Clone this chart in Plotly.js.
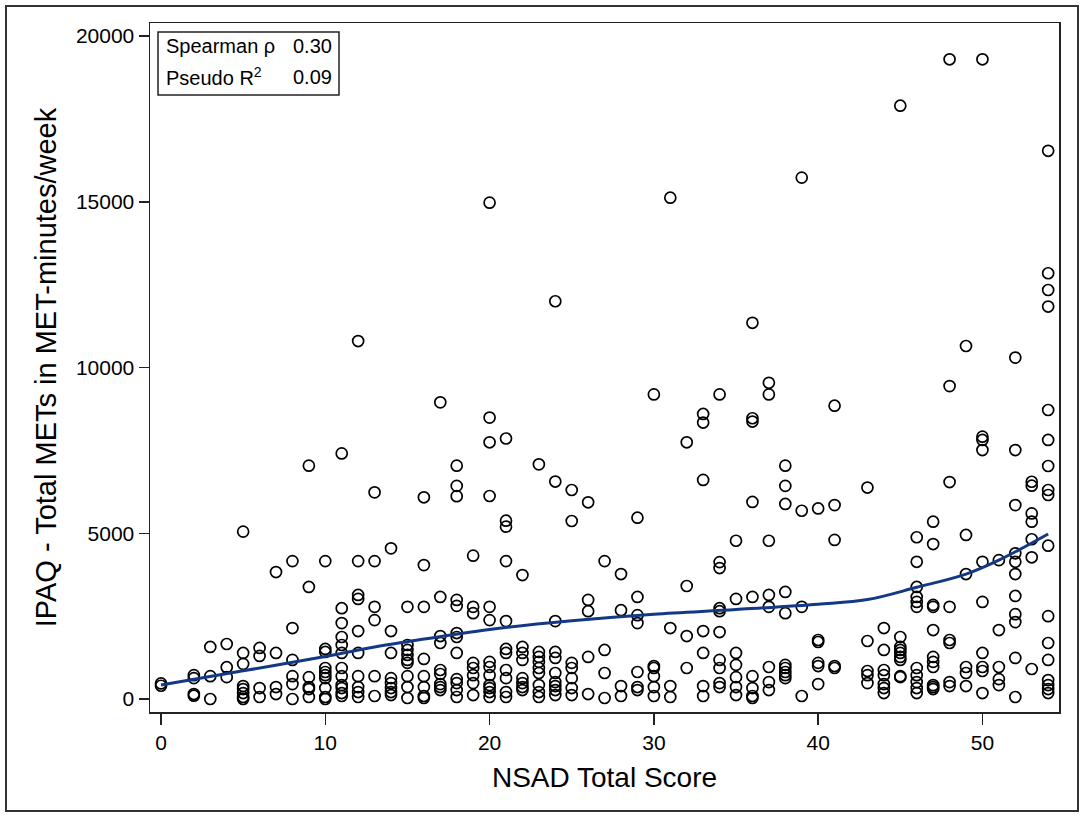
<!DOCTYPE html>
<html>
<head>
<meta charset="utf-8">
<script src="https://cdn.plot.ly/plotly-3.0.1.min.js"></script>
<style>
  html, body { margin: 0; padding: 0; background: #fff; }
  #chart { width: 1084px; height: 816px; }
</style>
</head>
<body>
<div id="chart"></div>
<script>
// NSAD total score values that have observations
const nsadScores = [0, 2, 3, 4, 5, 6, 7, 8, 9, 10, 11, 12, 13, 14, 15, 16, 17, 18, 19, 20,
  21, 22, 23, 24, 25, 26, 27, 28, 29, 30, 31, 32, 33, 34, 35, 36, 37, 38, 39, 40,
  41, 43, 44, 45, 46, 47, 48, 49, 50, 51, 52, 53, 54];

// IPAQ total METs (MET-minutes/week) observed at each score above
const metsByScore = [
  [400, 470],
  [720, 630, 150, 100],
  [1570, 690, 0],
  [1660, 960, 660],
  [5050, 1390, 1060, 390, 300, 180, 60, 0],
  [1540, 1300, 330, 60],
  [3830, 1390, 360, 150],
  [4160, 2140, 1180, 690, 450, 0],
  [7040, 3380, 660, 360, 300, 60],
  [4160, 1510, 1420, 935, 815, 720, 630, 330, 60, 0],
  [7410, 2740, 2290, 1870, 1630, 1390, 935, 690, 420, 330, 180, 90],
  [10800, 4160, 3140, 3020, 2050, 1390, 690, 360, 210, 60],
  [6235, 4160, 2780, 2380, 690, 90],
  [4545, 2050, 1390, 630, 480, 330, 210, 120],
  [2780, 1630, 1480, 1330, 1180, 1090, 690, 360, 30],
  [6085, 4040, 2780, 1210, 690, 360, 90, 30],
  [8950, 3080, 1900, 1690, 875, 755, 450, 360, 270],
  [7040, 6430, 6120, 2990, 2810, 1990, 1870, 1390, 600, 480, 270, 60],
  [4325, 2780, 2590, 1090, 935, 720, 480, 120],
  [14975, 8490, 7745, 6125, 2780, 2380, 1120, 965, 720, 420, 330, 210, 60],
  [7860, 5380, 5200, 4160, 2350, 1510, 1390, 875, 630, 210, 60],
  [3740, 1570, 1390, 1180, 630, 480, 360, 270],
  [7080, 1420, 1270, 1120, 935, 785, 420, 210, 60],
  [12000, 6560, 2350, 1420, 1240, 785, 510, 390, 270, 120],
  [6305, 5370, 1090, 935, 630, 330, 120],
  [5935, 2990, 2650, 1270, 150],
  [4160, 1480, 785, 30],
  [3770, 2680, 390, 90],
  [5470, 3080, 2530, 2290, 815, 360, 270],
  [9190, 995, 935, 690, 360, 90],
  [15125, 2140, 390, 60],
  [7745, 3410, 1900, 935],
  [8600, 8340, 6610, 2050, 1390, 390, 90],
  [9190, 4130, 3950, 2740, 2650, 2020, 1180, 935, 480, 360],
  [4775, 3020, 1390, 1030, 660, 360, 120],
  [11350, 8470, 8370, 5945, 3080, 690, 330, 90, 30],
  [9540, 9190, 4775, 3140, 2780, 965, 510, 270],
  [7040, 6430, 5885, 3230, 2590, 1030, 935, 815, 720, 630],
  [15730, 5680, 2780, 90],
  [5750, 1780, 1720, 1090, 995, 450],
  [8850, 5850, 4800, 995, 935],
  [6380, 1750, 845, 720, 480],
  [2140, 1480, 875, 720, 450, 330, 180],
  [17900, 1870, 1570, 1480, 1390, 1270, 1180, 690, 660],
  [4880, 4140, 3380, 3080, 2930, 2780, 935, 720, 510, 330, 180],
  [5350, 4675, 2840, 2780, 2080, 1270, 1120, 965, 420, 360, 300],
  [19300, 9440, 6545, 2780, 1780, 1690, 510, 390],
  [10650, 4950, 3770, 965, 785, 390],
  [19300, 7915, 7815, 7510, 4140, 2930, 1390, 965, 845, 180],
  [4190, 2080, 965, 600, 420],
  [10300, 7510, 5850, 4395, 4140, 3770, 3110, 2560, 2320, 1240, 60],
  [6555, 6435, 5600, 5350, 4820, 4275, 905],
  [16540, 12845, 12340, 11840, 8720, 7815, 7030, 6305, 6155, 4625, 2500, 1690, 1180, 570, 420, 300, 180]
];

// Fitted smooth curve
const fitScore = [0, 5, 10, 13, 15, 20, 25, 30, 35, 40, 43, 46, 49, 51, 54];
const fitMets = [420, 850, 1280, 1570, 1730, 2100, 2360, 2560, 2700, 2860, 3000, 3370, 3770, 4190, 4980];

// Tick labels
const xTicks = [0, 10, 20, 30, 40, 50];
const yTicks = [0, 5000, 10000, 15000, 20000];

// Statistics box
const statLabels = ['Spearman ρ', 'Pseudo R<sup>2</sup>'];
const statValues = ['0.30', '0.09'];

const px = [], py = [];
nsadScores.forEach((s, i) => {
  metsByScore[i].forEach(v => { px.push(s); py.push(v); });
});

const FONT = 'Liberation Sans, Arial, Helvetica, sans-serif';
const INK = '#222';

const traces = [
  {
    x: px, y: py, type: 'scatter', mode: 'markers',
    marker: { symbol: 'circle-open', size: 11, color: '#000', line: { width: 1.7, color: '#000' } },
    hoverinfo: 'x+y', showlegend: false
  },
  {
    x: fitScore, y: fitMets, type: 'scatter', mode: 'lines',
    line: { color: '#123886', width: 3, shape: 'spline', smoothing: 1 },
    showlegend: false
  }
];

const W = 909, H = 689;
const pxX = p => (p - 150) / W;
const pxY = p => (712 - p) / H;

const annotations = [];
statLabels.forEach((lab, i) => {
  const yc = pxY(i === 0 ? 45.5 : 76.5);
  annotations.push({ xref: 'paper', yref: 'paper', x: pxX(164), y: yc, xanchor: 'left', yanchor: 'middle',
    text: lab, showarrow: false, font: { family: FONT, size: 20, color: '#000' } });
  annotations.push({ xref: 'paper', yref: 'paper', x: pxX(334), y: yc, xanchor: 'right', yanchor: 'middle',
    text: statValues[i], showarrow: false, font: { family: FONT, size: 20, color: '#000' } });
});

const layout = {
  width: 1084, height: 816,
  margin: { l: 150, r: 25, t: 23, b: 104 },
  paper_bgcolor: '#fff', plot_bgcolor: '#fff',
  font: { family: FONT, color: '#000' },
  xaxis: {
    range: [-0.67, 54.66],
    tickvals: xTicks, ticktext: xTicks.map(String),
    ticks: 'outside', ticklen: 11, tickwidth: 1.5, tickcolor: INK,
    showline: true, linecolor: INK, linewidth: 1.5, mirror: true,
    showgrid: false, zeroline: false,
    tickfont: { family: FONT, size: 21, color: '#000' },
    title: { text: 'NSAD Total Score', font: { family: FONT, size: 28, color: '#000' }, standoff: 14 }
  },
  yaxis: {
    range: [-392, 20395],
    tickvals: yTicks, ticktext: yTicks.map(String),
    ticks: 'outside', ticklen: 10, tickwidth: 1.5, tickcolor: INK,
    showline: true, linecolor: INK, linewidth: 1.5, mirror: true,
    showgrid: false, zeroline: false,
    tickfont: { family: FONT, size: 21, color: '#000' },
    title: { text: 'IPAQ - Total METs in MET-minutes/week', font: { family: FONT, size: 29, color: '#000' }, standoff: 10 }
  },
  shapes: [
    { type: 'rect', xref: 'paper', yref: 'paper', x0: pxX(158), x1: pxX(339), y0: pxY(95), y1: pxY(32),
      line: { color: INK, width: 1.5 }, fillcolor: 'rgba(0,0,0,0)' },
    { type: 'rect', xref: 'paper', yref: 'paper', x0: pxX(6), x1: pxX(1078), y0: pxY(811), y1: pxY(6),
      line: { color: '#333', width: 2 }, fillcolor: 'rgba(0,0,0,0)' }
  ],
  annotations: annotations
};

Plotly.newPlot('chart', traces, layout, { displayModeBar: false, staticPlot: true });
</script>
</body>
</html>
